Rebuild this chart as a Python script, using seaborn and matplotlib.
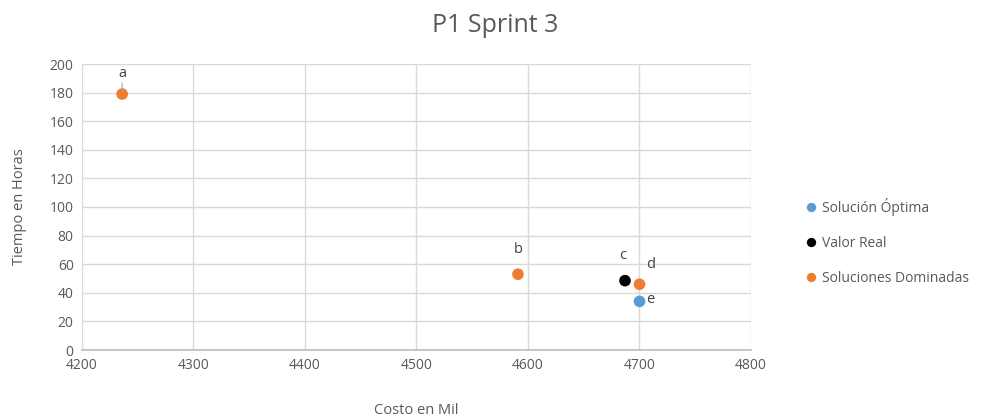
import matplotlib
matplotlib.use("Agg")
import matplotlib.pyplot as plt
import seaborn as sns
import pandas as pd

# Data
series_names = ["Solución Óptima", "Valor Real", "Soluciones Dominadas"]
optima_x = [4700]
optima_y = [34]
real_x = [4687]
real_y = [48.5]
dom_x = [4236, 4591, 4700]
dom_y = [179, 53, 46]
point_labels = ["e", "c", "a", "b", "d"]

colors = {"Solución Óptima": "#5B9BD5", "Valor Real": "#000000", "Soluciones Dominadas": "#ED7D31"}

df = pd.DataFrame({
    "x": optima_x + real_x + dom_x,
    "y": optima_y + real_y + dom_y,
    "serie": [series_names[0]] * len(optima_x) + [series_names[1]] * len(real_x) + [series_names[2]] * len(dom_x),
    "label": point_labels,
})

sns.set_theme(style="white")
plt.rcParams["font.family"] = ["Open Sans", "DejaVu Sans"]
text_color = "#595959"

fig = plt.figure(figsize=(9.91, 4.16), dpi=100)
ax = fig.add_axes([82 / 991, 1 - 350 / 416, (751 - 82) / 991, (350 - 64) / 416])

sns.scatterplot(data=df, x="x", y="y", hue="serie", hue_order=series_names,
                palette=colors, s=70, edgecolor="none", ax=ax, legend=True, zorder=3)

ax.set_xlim(4200, 4800)
ax.set_ylim(0, 200)
ax.set_xticks(range(4200, 4801, 100))
ax.set_yticks(range(0, 201, 20))
ax.grid(True, color="#D9D9D9", linewidth=1)
ax.set_axisbelow(True)
for s in ["top", "right", "left"]:
    ax.spines[s].set_visible(False)
ax.spines["bottom"].set_color("#BFBFBF")
ax.tick_params(axis="both", colors=text_color, labelsize=10, length=0, pad=6)
ax.set_xlabel("Costo en Mil", color=text_color, fontsize=10.5, labelpad=21)
ax.set_ylabel("Tiempo en Horas", color=text_color, fontsize=10.5, labelpad=16)

# Point labels
offsets = {"a": (0, 15), "b": (0, 18), "c": (-2, 18), "d": (8, 14), "e": (8, 1)}
for _, r in df.iterrows():
    dx, dy = offsets[r["label"]]
    ax.annotate(r["label"], (r["x"], r["y"]), xytext=(dx, dy), textcoords="offset points",
                ha="center", va="center", fontsize=10.5, color="#404040")
# leader line for a
ax.annotate("", (dom_x[0], dom_y[0]), xytext=(0, 10), textcoords="offset points",
            arrowprops=dict(arrowstyle="-", color="#A6A6A6", lw=0.8))

fig.text(495 / 991, 1 - 25 / 416, "P1 Sprint 3", ha="center", va="center", fontsize=18, color=text_color)

leg = ax.legend(loc="center left", bbox_to_anchor=(1.05, 0.378), frameon=False,
                fontsize=10, labelcolor=text_color, handletextpad=-0.2, labelspacing=1.45,
                markerscale=0.8)

fig.savefig("out.png", dpi=100)
